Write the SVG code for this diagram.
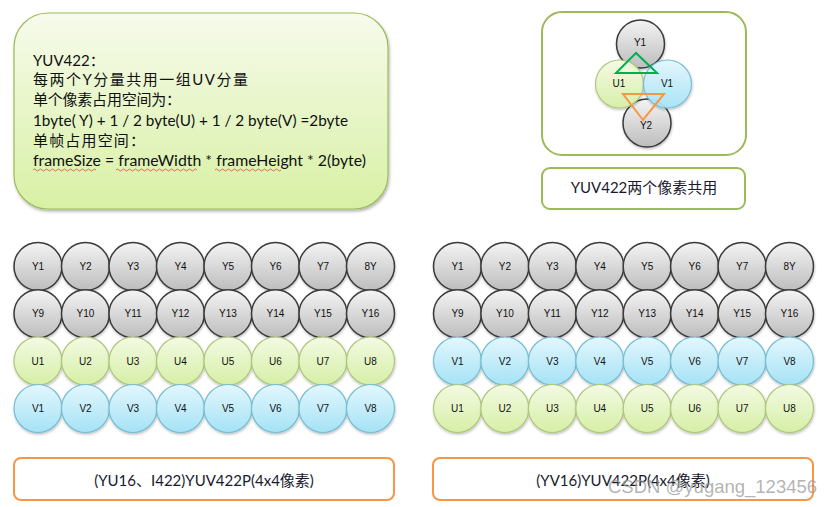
<svg xmlns="http://www.w3.org/2000/svg" width="839" height="507" viewBox="0 0 839 507">
<defs>
<linearGradient id="gG" x1="0" y1="0" x2="0" y2="1"><stop offset="0" stop-color="#f4f4f4"/><stop offset="1" stop-color="#bdbdbd"/></linearGradient>
<linearGradient id="gU" x1="0" y1="0" x2="0" y2="1"><stop offset="0" stop-color="#f3fae3"/><stop offset="1" stop-color="#d6efa6"/></linearGradient>
<linearGradient id="gV" x1="0" y1="0" x2="0" y2="1"><stop offset="0" stop-color="#e3f7fd"/><stop offset="1" stop-color="#a5e2f6"/></linearGradient>
<linearGradient id="gBox" x1="0" y1="0" x2="0" y2="1"><stop offset="0" stop-color="#f7fbec"/><stop offset="1" stop-color="#d8f0a4"/></linearGradient>
<filter id="sh" x="-10%" y="-10%" width="130%" height="130%"><feDropShadow dx="1" dy="2" stdDeviation="1.5" flood-color="#000" flood-opacity="0.3"/></filter>
<filter id="csh" x="-20%" y="-20%" width="140%" height="140%"><feDropShadow dx="0.5" dy="1.5" stdDeviation="1" flood-color="#000" flood-opacity="0.25"/></filter>
</defs>
<style>
.y{fill:url(#gG);stroke:#3a3a3a;stroke-width:1.5}
.u{fill:url(#gU);stroke:#aec77a;stroke-width:1.2}
.v{fill:url(#gV);stroke:#74bdd3;stroke-width:1.2}
.c{filter:url(#csh)}
.lbl{font-family:"Liberation Sans","Noto Sans CJK SC",sans-serif;font-size:10px;fill:#111;text-anchor:middle;dominant-baseline:central}
.t{font-family:Lato,"Noto Sans CJK SC",sans-serif;font-size:15px;fill:#111}
.tc{font-family:Lato,"Noto Sans CJK SC",sans-serif;font-size:15px;fill:#1a1a2e;text-anchor:middle}
.ob{fill:#fff;stroke:#f79646;stroke-width:2}
</style>
<g id="infoBox">
<rect x="14" y="13" width="374" height="196" rx="34" fill="url(#gBox)" stroke="#9bbb59" stroke-width="1.2" filter="url(#sh)"/>
<text class="t" x="33" y="66">YUV422：</text>
<text class="t" x="33" y="85" textLength="215" lengthAdjust="spacing">每两个Y分量共用一组UV分量</text>
<text class="t" x="33" y="105" textLength="148" lengthAdjust="spacing">单个像素占用空间为：</text>
<text class="t" x="33" y="126" textLength="315" lengthAdjust="spacingAndGlyphs">1byte( Y) + 1 / 2 byte(U) + 1 / 2 byte(V) =2byte</text>
<text class="t" x="33" y="146" textLength="112" lengthAdjust="spacing">单帧占用空间：</text>
<text class="t" x="33" y="166" textLength="333" lengthAdjust="spacingAndGlyphs">frameSize = frameWidth * frameHeight * 2(byte)</text>
<path d="M33 170 q1.5 -2 3 0 t3 0 t3 0 t3 0 t3 0 t3 0 t3 0 t3 0 t3 0 t3 0 t3 0 t3 0 t3 0 t3 0 t3 0 t3 0 t3 0 t3 0 t3 0 t3 0 t3 0" fill="none" stroke="#e03030" stroke-width="0.7"/>
<path d="M116 170 q1.5 -2 3 0 t3 0 t3 0 t3 0 t3 0 t3 0 t3 0 t3 0 t3 0 t3 0 t3 0 t3 0 t3 0 t3 0 t3 0 t3 0 t3 0 t3 0 t3 0 t3 0 t3 0 t3 0 t3 0 t3 0 t3 0 t3 0 t3 0" fill="none" stroke="#e03030" stroke-width="0.7"/>
<path d="M215 170 q1.5 -2 3 0 t3 0 t3 0 t3 0 t3 0 t3 0 t3 0 t3 0 t3 0 t3 0 t3 0 t3 0 t3 0 t3 0 t3 0 t3 0 t3 0 t3 0 t3 0 t3 0 t3 0 t3 0" fill="none" stroke="#e03030" stroke-width="0.7"/>
</g>
<g id="shareBox">
<rect x="542" y="12" width="204" height="143" rx="20" fill="#fff" stroke="#9bbb59" stroke-width="2"/>
</g>
<g id="s-Y1"><circle class="y c" cx="640.5" cy="44" r="24"/><text class="lbl" x="640" y="42">Y1</text></g>
<g id="s-Y2"><circle class="y c" cx="647" cy="123" r="24"/><text class="lbl" x="646" y="125">Y2</text></g>
<g id="s-U1"><circle class="u c" cx="619.5" cy="84" r="24" opacity="0.95"/><text class="lbl" x="619" y="83">U1</text></g>
<g id="s-V1"><circle class="v c" cx="667.5" cy="84" r="24" opacity="0.95"/><text class="lbl" x="667" y="83">V1</text></g>
<g id="connectors">
<polygon points="636,53 616,73 657,73" fill="none" stroke="#00b050" stroke-width="2"/>
<polygon points="623,94 664,94 643,120" fill="none" stroke="#f79646" stroke-width="2"/>
</g>
<g id="shareLabel">
<rect x="542" y="168" width="203" height="41" rx="8" fill="#fff" stroke="#9bbb59" stroke-width="2"/>
<text class="tc" x="644" y="193">YUV422两个像素共用</text>
</g>
<g id="leftGrid">
<g id="L-Y1"><circle class="y c" cx="38" cy="266.5" r="24"/><text class="lbl" x="38" y="266.5">Y1</text></g>
<g id="L-Y2"><circle class="y c" cx="85.5" cy="266.5" r="24"/><text class="lbl" x="85.5" y="266.5">Y2</text></g>
<g id="L-Y3"><circle class="y c" cx="133" cy="266.5" r="24"/><text class="lbl" x="133" y="266.5">Y3</text></g>
<g id="L-Y4"><circle class="y c" cx="180.5" cy="266.5" r="24"/><text class="lbl" x="180.5" y="266.5">Y4</text></g>
<g id="L-Y5"><circle class="y c" cx="228" cy="266.5" r="24"/><text class="lbl" x="228" y="266.5">Y5</text></g>
<g id="L-Y6"><circle class="y c" cx="275.5" cy="266.5" r="24"/><text class="lbl" x="275.5" y="266.5">Y6</text></g>
<g id="L-Y7"><circle class="y c" cx="323" cy="266.5" r="24"/><text class="lbl" x="323" y="266.5">Y7</text></g>
<g id="L-Y8"><circle class="y c" cx="370.5" cy="266.5" r="24"/><text class="lbl" x="370.5" y="266.5">8Y</text></g>
<g id="L-Y9"><circle class="y c" cx="38" cy="313.8" r="24"/><text class="lbl" x="38" y="313.8">Y9</text></g>
<g id="L-Y10"><circle class="y c" cx="85.5" cy="313.8" r="24"/><text class="lbl" x="85.5" y="313.8">Y10</text></g>
<g id="L-Y11"><circle class="y c" cx="133" cy="313.8" r="24"/><text class="lbl" x="133" y="313.8">Y11</text></g>
<g id="L-Y12"><circle class="y c" cx="180.5" cy="313.8" r="24"/><text class="lbl" x="180.5" y="313.8">Y12</text></g>
<g id="L-Y13"><circle class="y c" cx="228" cy="313.8" r="24"/><text class="lbl" x="228" y="313.8">Y13</text></g>
<g id="L-Y14"><circle class="y c" cx="275.5" cy="313.8" r="24"/><text class="lbl" x="275.5" y="313.8">Y14</text></g>
<g id="L-Y15"><circle class="y c" cx="323" cy="313.8" r="24"/><text class="lbl" x="323" y="313.8">Y15</text></g>
<g id="L-Y16"><circle class="y c" cx="370.5" cy="313.8" r="24"/><text class="lbl" x="370.5" y="313.8">Y16</text></g>
<g id="L-U1"><circle class="u c" cx="38" cy="361" r="24"/><text class="lbl" x="38" y="361">U1</text></g>
<g id="L-U2"><circle class="u c" cx="85.5" cy="361" r="24"/><text class="lbl" x="85.5" y="361">U2</text></g>
<g id="L-U3"><circle class="u c" cx="133" cy="361" r="24"/><text class="lbl" x="133" y="361">U3</text></g>
<g id="L-U4"><circle class="u c" cx="180.5" cy="361" r="24"/><text class="lbl" x="180.5" y="361">U4</text></g>
<g id="L-U5"><circle class="u c" cx="228" cy="361" r="24"/><text class="lbl" x="228" y="361">U5</text></g>
<g id="L-U6"><circle class="u c" cx="275.5" cy="361" r="24"/><text class="lbl" x="275.5" y="361">U6</text></g>
<g id="L-U7"><circle class="u c" cx="323" cy="361" r="24"/><text class="lbl" x="323" y="361">U7</text></g>
<g id="L-U8"><circle class="u c" cx="370.5" cy="361" r="24"/><text class="lbl" x="370.5" y="361">U8</text></g>
<g id="L-V1"><circle class="v c" cx="38" cy="408.5" r="24"/><text class="lbl" x="38" y="408.5">V1</text></g>
<g id="L-V2"><circle class="v c" cx="85.5" cy="408.5" r="24"/><text class="lbl" x="85.5" y="408.5">V2</text></g>
<g id="L-V3"><circle class="v c" cx="133" cy="408.5" r="24"/><text class="lbl" x="133" y="408.5">V3</text></g>
<g id="L-V4"><circle class="v c" cx="180.5" cy="408.5" r="24"/><text class="lbl" x="180.5" y="408.5">V4</text></g>
<g id="L-V5"><circle class="v c" cx="228" cy="408.5" r="24"/><text class="lbl" x="228" y="408.5">V5</text></g>
<g id="L-V6"><circle class="v c" cx="275.5" cy="408.5" r="24"/><text class="lbl" x="275.5" y="408.5">V6</text></g>
<g id="L-V7"><circle class="v c" cx="323" cy="408.5" r="24"/><text class="lbl" x="323" y="408.5">V7</text></g>
<g id="L-V8"><circle class="v c" cx="370.5" cy="408.5" r="24"/><text class="lbl" x="370.5" y="408.5">V8</text></g>
</g>
<g id="rightGrid">
<g id="R-Y1"><circle class="y c" cx="457.5" cy="266.5" r="24"/><text class="lbl" x="457.5" y="266.5">Y1</text></g>
<g id="R-Y2"><circle class="y c" cx="504.9" cy="266.5" r="24"/><text class="lbl" x="504.9" y="266.5">Y2</text></g>
<g id="R-Y3"><circle class="y c" cx="552.4" cy="266.5" r="24"/><text class="lbl" x="552.4" y="266.5">Y3</text></g>
<g id="R-Y4"><circle class="y c" cx="599.8" cy="266.5" r="24"/><text class="lbl" x="599.8" y="266.5">Y4</text></g>
<g id="R-Y5"><circle class="y c" cx="647.2" cy="266.5" r="24"/><text class="lbl" x="647.2" y="266.5">Y5</text></g>
<g id="R-Y6"><circle class="y c" cx="694.6" cy="266.5" r="24"/><text class="lbl" x="694.6" y="266.5">Y6</text></g>
<g id="R-Y7"><circle class="y c" cx="742.1" cy="266.5" r="24"/><text class="lbl" x="742.1" y="266.5">Y7</text></g>
<g id="R-Y8"><circle class="y c" cx="789.5" cy="266.5" r="24"/><text class="lbl" x="789.5" y="266.5">8Y</text></g>
<g id="R-Y9"><circle class="y c" cx="457.5" cy="313.8" r="24"/><text class="lbl" x="457.5" y="313.8">Y9</text></g>
<g id="R-Y10"><circle class="y c" cx="504.9" cy="313.8" r="24"/><text class="lbl" x="504.9" y="313.8">Y10</text></g>
<g id="R-Y11"><circle class="y c" cx="552.4" cy="313.8" r="24"/><text class="lbl" x="552.4" y="313.8">Y11</text></g>
<g id="R-Y12"><circle class="y c" cx="599.8" cy="313.8" r="24"/><text class="lbl" x="599.8" y="313.8">Y12</text></g>
<g id="R-Y13"><circle class="y c" cx="647.2" cy="313.8" r="24"/><text class="lbl" x="647.2" y="313.8">Y13</text></g>
<g id="R-Y14"><circle class="y c" cx="694.6" cy="313.8" r="24"/><text class="lbl" x="694.6" y="313.8">Y14</text></g>
<g id="R-Y15"><circle class="y c" cx="742.1" cy="313.8" r="24"/><text class="lbl" x="742.1" y="313.8">Y15</text></g>
<g id="R-Y16"><circle class="y c" cx="789.5" cy="313.8" r="24"/><text class="lbl" x="789.5" y="313.8">Y16</text></g>
<g id="R-V1"><circle class="v c" cx="457.5" cy="361" r="24"/><text class="lbl" x="457.5" y="361">V1</text></g>
<g id="R-V2"><circle class="v c" cx="504.9" cy="361" r="24"/><text class="lbl" x="504.9" y="361">V2</text></g>
<g id="R-V3"><circle class="v c" cx="552.4" cy="361" r="24"/><text class="lbl" x="552.4" y="361">V3</text></g>
<g id="R-V4"><circle class="v c" cx="599.8" cy="361" r="24"/><text class="lbl" x="599.8" y="361">V4</text></g>
<g id="R-V5"><circle class="v c" cx="647.2" cy="361" r="24"/><text class="lbl" x="647.2" y="361">V5</text></g>
<g id="R-V6"><circle class="v c" cx="694.6" cy="361" r="24"/><text class="lbl" x="694.6" y="361">V6</text></g>
<g id="R-V7"><circle class="v c" cx="742.1" cy="361" r="24"/><text class="lbl" x="742.1" y="361">V7</text></g>
<g id="R-V8"><circle class="v c" cx="789.5" cy="361" r="24"/><text class="lbl" x="789.5" y="361">V8</text></g>
<g id="R-U1"><circle class="u c" cx="457.5" cy="408.5" r="24"/><text class="lbl" x="457.5" y="408.5">U1</text></g>
<g id="R-U2"><circle class="u c" cx="504.9" cy="408.5" r="24"/><text class="lbl" x="504.9" y="408.5">U2</text></g>
<g id="R-U3"><circle class="u c" cx="552.4" cy="408.5" r="24"/><text class="lbl" x="552.4" y="408.5">U3</text></g>
<g id="R-U4"><circle class="u c" cx="599.8" cy="408.5" r="24"/><text class="lbl" x="599.8" y="408.5">U4</text></g>
<g id="R-U5"><circle class="u c" cx="647.2" cy="408.5" r="24"/><text class="lbl" x="647.2" y="408.5">U5</text></g>
<g id="R-U6"><circle class="u c" cx="694.6" cy="408.5" r="24"/><text class="lbl" x="694.6" y="408.5">U6</text></g>
<g id="R-U7"><circle class="u c" cx="742.1" cy="408.5" r="24"/><text class="lbl" x="742.1" y="408.5">U7</text></g>
<g id="R-U8"><circle class="u c" cx="789.5" cy="408.5" r="24"/><text class="lbl" x="789.5" y="408.5">U8</text></g>
</g>
<g id="leftCaption">
<rect class="ob" x="14" y="458" width="380" height="42" rx="7"/>
<text class="tc" x="204" y="486">(YU16、I422)YUV422P(4x4像素)</text>
</g>
<g id="rightCaption">
<rect class="ob" x="433" y="458" width="380" height="42" rx="7"/>
<text class="tc" x="623" y="486">(YV16)YUV422P(4x4像素)</text>
</g>
<text x="608" y="493" font-family="'Liberation Sans',sans-serif" font-size="18.5" fill="#9a9a9a" fill-opacity="0.75">CSDN @yugang_123456</text>
</svg>
